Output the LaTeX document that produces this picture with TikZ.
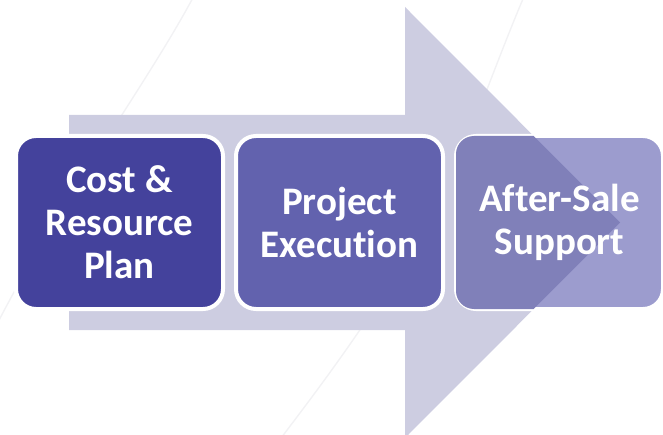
\documentclass[tikz,border=0pt]{standalone}
\usepackage{fontspec}
\setmainfont[Ligatures=CommonOff]{Carlito}
\definecolor{arrowcol}{RGB}{205,205,225}
\definecolor{cone}{RGB}{68,66,156}
\definecolor{ctwo}{RGB}{98,98,174}
\definecolor{cthree}{RGB}{156,156,206}
\definecolor{cthreedark}{RGB}{128,128,185}
\definecolor{faint}{RGB}{242,242,244}
\tikzset{
  stepbox/.style={draw=white, line width=4pt, rounded corners=20pt,
    minimum width=207pt, minimum height=173pt, inner sep=0pt},
  steptext/.style={text=white, font=\fontsize{39}{43}\selectfont\bfseries,
    align=center, inner sep=0pt},
  bgline/.style={draw=faint, line width=1.4pt}
}
\begin{document}
\begin{tikzpicture}[x=1pt,y=-1pt]
\useasboundingbox (0,0) rectangle (663,435);
\begin{scope}
\clip (0,0) rectangle (663,435);
% faint background lines
\draw[bgline] (196,-8) .. controls (150,80) and (60,200) .. (-6,330);
\draw[bgline] (526,-8) .. controls (505,40) and (480,110) .. (455,170);
\draw[bgline] (372,312) .. controls (340,360) and (310,400) .. (278,442);
% big arrow
\fill[arrowcol] (69,115) -- (405,115) -- (405,7) -- (620,222.5) -- (405,438)
  -- (405,330) -- (69,330) -- cycle;
% boxes
\node[stepbox, fill=cone] (b1) at (119.5,222.5) {};
\node[stepbox, fill=ctwo] (b2) at (339.5,222.5) {};
\node[stepbox, fill=cthree] (b3) at (559.5,222.5) {};
\begin{scope}
\clip[rounded corners=18pt] ([xshift=2pt,yshift=2pt]b3.south west) rectangle ([xshift=-2pt,yshift=-2pt]b3.north east);
\fill[cthreedark] (405,7) -- (620,222.5) -- (405,438) -- cycle;
\end{scope}
\end{scope}
% texts
\node[steptext] (t1) at (b1.center) {Cost \&\\Resource\\Plan};
\node[steptext] (t2) at (b2.center) {Project\\Execution};
\node[steptext] (t3) at (b3.center) {After-Sale\\Support};
\end{tikzpicture}
\end{document}
